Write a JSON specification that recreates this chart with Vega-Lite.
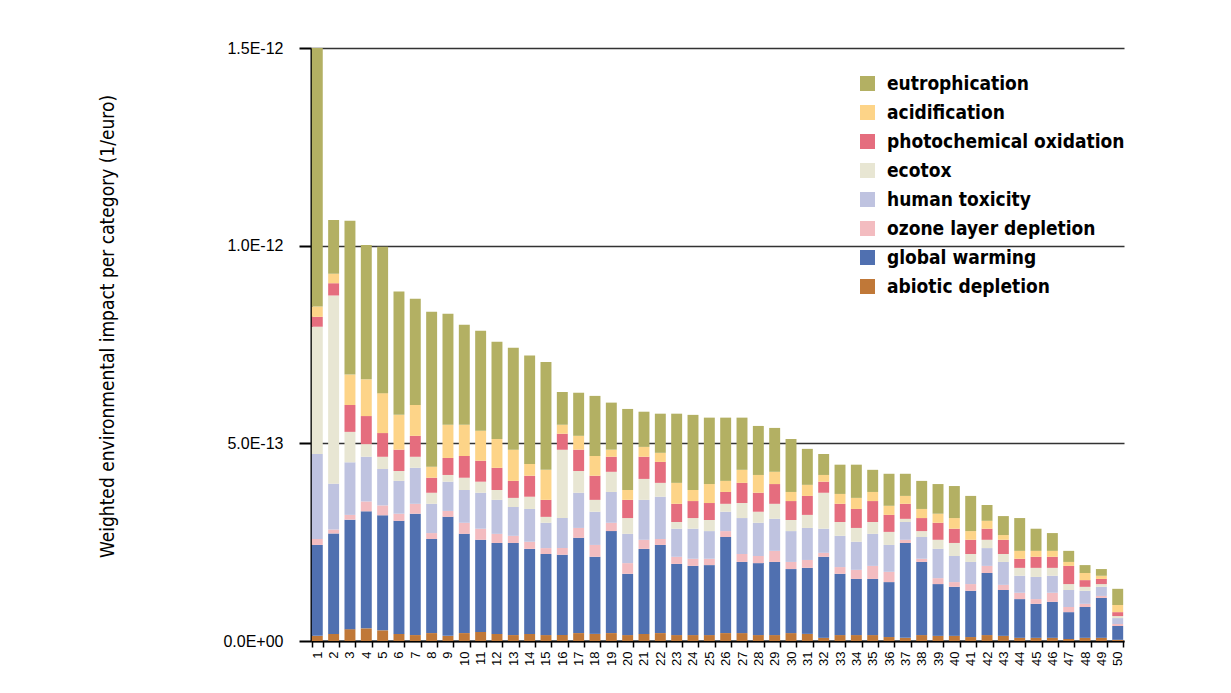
{
  "$schema": "https://vega.github.io/schema/vega-lite/v6.json",
  "width": 813,
  "height": 593,
  "autosize": {"type": "none"},
  "padding": {"left": 311, "top": 48, "right": 107, "bottom": 52},
  "background": "white",
  "config": {"view": {"stroke": null}, "font": "Liberation Sans"},
  "datasets": {
    "categories": [
      {"key": "ab", "category": "abiotic depletion", "level": 1},
      {"key": "gw", "category": "global warming", "level": 2},
      {"key": "oz", "category": "ozone layer depletion", "level": 3},
      {"key": "ht", "category": "human toxicity", "level": 4},
      {"key": "ec", "category": "ecotox", "level": 5},
      {"key": "ph", "category": "photochemical oxidation", "level": 6},
      {"key": "ac", "category": "acidification", "level": 7},
      {"key": "eu", "category": "eutrophication", "level": 8}
    ],
    "impacts": [
      {"product": 1, "ab": 0.13e-13, "gw": 2.30e-13, "oz": 0.15e-13, "ht": 2.15e-13, "ec": 3.22e-13, "ph": 0.25e-13, "ac": 0.26e-13, "eu": 6.54e-13},
      {"product": 2, "ab": 0.18e-13, "gw": 2.54e-13, "oz": 0.10e-13, "ht": 1.16e-13, "ec": 4.76e-13, "ph": 0.31e-13, "ac": 0.24e-13, "eu": 1.36e-13},
      {"product": 3, "ab": 0.30e-13, "gw": 2.77e-13, "oz": 0.12e-13, "ht": 1.33e-13, "ec": 0.77e-13, "ph": 0.68e-13, "ac": 0.77e-13, "eu": 3.89e-13},
      {"product": 4, "ab": 0.32e-13, "gw": 2.96e-13, "oz": 0.25e-13, "ht": 1.13e-13, "ec": 0.32e-13, "ph": 0.71e-13, "ac": 0.93e-13, "eu": 3.40e-13},
      {"product": 5, "ab": 0.27e-13, "gw": 2.91e-13, "oz": 0.25e-13, "ht": 0.92e-13, "ec": 0.31e-13, "ph": 0.60e-13, "ac": 1.01e-13, "eu": 3.70e-13},
      {"product": 6, "ab": 0.18e-13, "gw": 2.86e-13, "oz": 0.18e-13, "ht": 0.83e-13, "ec": 0.25e-13, "ph": 0.54e-13, "ac": 0.88e-13, "eu": 3.12e-13},
      {"product": 7, "ab": 0.15e-13, "gw": 3.07e-13, "oz": 0.25e-13, "ht": 0.91e-13, "ec": 0.28e-13, "ph": 0.53e-13, "ac": 0.78e-13, "eu": 2.69e-13},
      {"product": 8, "ab": 0.20e-13, "gw": 2.38e-13, "oz": 0.15e-13, "ht": 0.74e-13, "ec": 0.28e-13, "ph": 0.38e-13, "ac": 0.28e-13, "eu": 3.92e-13},
      {"product": 9, "ab": 0.13e-13, "gw": 3.01e-13, "oz": 0.15e-13, "ht": 0.74e-13, "ec": 0.17e-13, "ph": 0.43e-13, "ac": 0.84e-13, "eu": 2.81e-13},
      {"product": 10, "ab": 0.20e-13, "gw": 2.51e-13, "oz": 0.28e-13, "ht": 0.83e-13, "ec": 0.31e-13, "ph": 0.55e-13, "ac": 0.79e-13, "eu": 2.53e-13},
      {"product": 11, "ab": 0.23e-13, "gw": 2.33e-13, "oz": 0.28e-13, "ht": 0.91e-13, "ec": 0.28e-13, "ph": 0.53e-13, "ac": 0.76e-13, "eu": 2.53e-13},
      {"product": 12, "ab": 0.18e-13, "gw": 2.30e-13, "oz": 0.23e-13, "ht": 0.86e-13, "ec": 0.25e-13, "ph": 0.56e-13, "ac": 0.73e-13, "eu": 2.46e-13},
      {"product": 13, "ab": 0.15e-13, "gw": 2.33e-13, "oz": 0.18e-13, "ht": 0.73e-13, "ec": 0.23e-13, "ph": 0.43e-13, "ac": 0.79e-13, "eu": 2.58e-13},
      {"product": 14, "ab": 0.18e-13, "gw": 2.15e-13, "oz": 0.18e-13, "ht": 0.83e-13, "ec": 0.31e-13, "ph": 0.53e-13, "ac": 0.30e-13, "eu": 2.74e-13},
      {"product": 15, "ab": 0.15e-13, "gw": 2.05e-13, "oz": 0.15e-13, "ht": 0.64e-13, "ec": 0.15e-13, "ph": 0.43e-13, "ac": 0.76e-13, "eu": 2.73e-13},
      {"product": 16, "ab": 0.15e-13, "gw": 2.03e-13, "oz": 0.17e-13, "ht": 0.76e-13, "ec": 1.73e-13, "ph": 0.40e-13, "ac": 0.23e-13, "eu": 0.83e-13},
      {"product": 17, "ab": 0.20e-13, "gw": 2.41e-13, "oz": 0.25e-13, "ht": 0.89e-13, "ec": 0.55e-13, "ph": 0.54e-13, "ac": 0.35e-13, "eu": 1.09e-13},
      {"product": 18, "ab": 0.18e-13, "gw": 1.95e-13, "oz": 0.30e-13, "ht": 0.84e-13, "ec": 0.30e-13, "ph": 0.61e-13, "ac": 0.50e-13, "eu": 1.52e-13},
      {"product": 19, "ab": 0.20e-13, "gw": 2.58e-13, "oz": 0.21e-13, "ht": 0.78e-13, "ec": 0.51e-13, "ph": 0.38e-13, "ac": 0.18e-13, "eu": 1.19e-13},
      {"product": 20, "ab": 0.15e-13, "gw": 1.55e-13, "oz": 0.27e-13, "ht": 0.74e-13, "ec": 0.40e-13, "ph": 0.46e-13, "ac": 0.25e-13, "eu": 2.05e-13},
      {"product": 21, "ab": 0.18e-13, "gw": 2.15e-13, "oz": 0.23e-13, "ht": 1.01e-13, "ec": 0.53e-13, "ph": 0.56e-13, "ac": 0.25e-13, "eu": 0.89e-13},
      {"product": 22, "ab": 0.20e-13, "gw": 2.23e-13, "oz": 0.15e-13, "ht": 1.07e-13, "ec": 0.35e-13, "ph": 0.53e-13, "ac": 0.23e-13, "eu": 0.99e-13},
      {"product": 23, "ab": 0.15e-13, "gw": 1.80e-13, "oz": 0.18e-13, "ht": 0.71e-13, "ec": 0.17e-13, "ph": 0.46e-13, "ac": 0.53e-13, "eu": 1.75e-13},
      {"product": 24, "ab": 0.15e-13, "gw": 1.75e-13, "oz": 0.18e-13, "ht": 0.76e-13, "ec": 0.27e-13, "ph": 0.43e-13, "ac": 0.28e-13, "eu": 1.90e-13},
      {"product": 25, "ab": 0.15e-13, "gw": 1.77e-13, "oz": 0.16e-13, "ht": 0.70e-13, "ec": 0.28e-13, "ph": 0.43e-13, "ac": 0.48e-13, "eu": 1.68e-13},
      {"product": 26, "ab": 0.20e-13, "gw": 2.43e-13, "oz": 0.15e-13, "ht": 0.49e-13, "ec": 0.20e-13, "ph": 0.30e-13, "ac": 0.28e-13, "eu": 1.60e-13},
      {"product": 27, "ab": 0.20e-13, "gw": 1.80e-13, "oz": 0.20e-13, "ht": 0.91e-13, "ec": 0.38e-13, "ph": 0.51e-13, "ac": 0.33e-13, "eu": 1.32e-13},
      {"product": 28, "ab": 0.15e-13, "gw": 1.82e-13, "oz": 0.18e-13, "ht": 0.84e-13, "ec": 0.28e-13, "ph": 0.48e-13, "ac": 0.45e-13, "eu": 1.24e-13},
      {"product": 29, "ab": 0.15e-13, "gw": 1.85e-13, "oz": 0.28e-13, "ht": 0.81e-13, "ec": 0.38e-13, "ph": 0.50e-13, "ac": 0.31e-13, "eu": 1.11e-13},
      {"product": 30, "ab": 0.20e-13, "gw": 1.62e-13, "oz": 0.18e-13, "ht": 0.78e-13, "ec": 0.28e-13, "ph": 0.48e-13, "ac": 0.23e-13, "eu": 1.34e-13},
      {"product": 31, "ab": 0.18e-13, "gw": 1.67e-13, "oz": 0.20e-13, "ht": 0.81e-13, "ec": 0.33e-13, "ph": 0.48e-13, "ac": 0.28e-13, "eu": 0.91e-13},
      {"product": 32, "ab": 0.08e-13, "gw": 2.05e-13, "oz": 0.10e-13, "ht": 0.61e-13, "ec": 0.91e-13, "ph": 0.28e-13, "ac": 0.17e-13, "eu": 0.53e-13},
      {"product": 33, "ab": 0.15e-13, "gw": 1.55e-13, "oz": 0.17e-13, "ht": 0.79e-13, "ec": 0.35e-13, "ph": 0.46e-13, "ac": 0.25e-13, "eu": 0.74e-13},
      {"product": 34, "ab": 0.15e-13, "gw": 1.42e-13, "oz": 0.23e-13, "ht": 0.71e-13, "ec": 0.35e-13, "ph": 0.48e-13, "ac": 0.28e-13, "eu": 0.84e-13},
      {"product": 35, "ab": 0.15e-13, "gw": 1.42e-13, "oz": 0.33e-13, "ht": 0.81e-13, "ec": 0.30e-13, "ph": 0.53e-13, "ac": 0.23e-13, "eu": 0.56e-13},
      {"product": 36, "ab": 0.10e-13, "gw": 1.39e-13, "oz": 0.26e-13, "ht": 0.68e-13, "ec": 0.33e-13, "ph": 0.43e-13, "ac": 0.23e-13, "eu": 0.81e-13},
      {"product": 37, "ab": 0.08e-13, "gw": 2.40e-13, "oz": 0.08e-13, "ht": 0.45e-13, "ec": 0.08e-13, "ph": 0.38e-13, "ac": 0.20e-13, "eu": 0.56e-13},
      {"product": 38, "ab": 0.15e-13, "gw": 1.85e-13, "oz": 0.08e-13, "ht": 0.55e-13, "ec": 0.15e-13, "ph": 0.33e-13, "ac": 0.23e-13, "eu": 0.71e-13},
      {"product": 39, "ab": 0.13e-13, "gw": 1.31e-13, "oz": 0.15e-13, "ht": 0.74e-13, "ec": 0.23e-13, "ph": 0.43e-13, "ac": 0.23e-13, "eu": 0.75e-13},
      {"product": 40, "ab": 0.13e-13, "gw": 1.24e-13, "oz": 0.12e-13, "ht": 0.66e-13, "ec": 0.33e-13, "ph": 0.36e-13, "ac": 0.27e-13, "eu": 0.81e-13},
      {"product": 41, "ab": 0.10e-13, "gw": 1.17e-13, "oz": 0.17e-13, "ht": 0.56e-13, "ec": 0.20e-13, "ph": 0.36e-13, "ac": 0.22e-13, "eu": 0.89e-13},
      {"product": 42, "ab": 0.15e-13, "gw": 1.57e-13, "oz": 0.18e-13, "ht": 0.45e-13, "ec": 0.21e-13, "ph": 0.28e-13, "ac": 0.20e-13, "eu": 0.40e-13},
      {"product": 43, "ab": 0.13e-13, "gw": 1.16e-13, "oz": 0.13e-13, "ht": 0.58e-13, "ec": 0.20e-13, "ph": 0.36e-13, "ac": 0.12e-13, "eu": 0.48e-13},
      {"product": 44, "ab": 0.08e-13, "gw": 0.98e-13, "oz": 0.16e-13, "ht": 0.43e-13, "ec": 0.20e-13, "ph": 0.23e-13, "ac": 0.20e-13, "eu": 0.83e-13},
      {"product": 45, "ab": 0.08e-13, "gw": 0.86e-13, "oz": 0.12e-13, "ht": 0.56e-13, "ec": 0.23e-13, "ph": 0.28e-13, "ac": 0.15e-13, "eu": 0.56e-13},
      {"product": 46, "ab": 0.08e-13, "gw": 0.91e-13, "oz": 0.23e-13, "ht": 0.43e-13, "ec": 0.20e-13, "ph": 0.28e-13, "ac": 0.15e-13, "eu": 0.45e-13},
      {"product": 47, "ab": 0.05e-13, "gw": 0.68e-13, "oz": 0.13e-13, "ht": 0.43e-13, "ec": 0.15e-13, "ph": 0.46e-13, "ac": 0.10e-13, "eu": 0.28e-13},
      {"product": 48, "ab": 0.08e-13, "gw": 0.78e-13, "oz": 0.08e-13, "ht": 0.33e-13, "ec": 0.10e-13, "ph": 0.17e-13, "ac": 0.18e-13, "eu": 0.20e-13},
      {"product": 49, "ab": 0.08e-13, "gw": 1.01e-13, "oz": 0.05e-13, "ht": 0.23e-13, "ec": 0.07e-13, "ph": 0.13e-13, "ac": 0.08e-13, "eu": 0.17e-13},
      {"product": 50, "ab": 0.03e-13, "gw": 0.35e-13, "oz": 0.05e-13, "ht": 0.15e-13, "ec": 0.05e-13, "ph": 0.10e-13, "ac": 0.18e-13, "eu": 0.41e-13}
    ]
  },
  "data": {"name": "impacts"},
  "transform": [
    {"fold": ["ab", "gw", "oz", "ht", "ec", "ph", "ac", "eu"], "as": ["key", "value"]},
    {"lookup": "key", "from": {"data": {"name": "categories"}, "key": "key", "fields": ["category", "level"]}}
  ],
  "mark": {"type": "bar"},
  "encoding": {
    "x": {
      "field": "product",
      "type": "ordinal",
      "scale": {"paddingInner": 0.33, "paddingOuter": 0.05},
      "axis": {
        "title": null,
        "labelAngle": -90,
        "labelFontSize": 13,
        "labelColor": "#000",
        "labelPadding": 4,
        "tickBand": "extent",
        "tickSize": 6,
        "tickWidth": 1.5,
        "tickColor": "#000",
        "domainColor": "#000",
        "domainWidth": 2,
        "grid": false
      }
    },
    "y": {
      "field": "value",
      "type": "quantitative",
      "stack": "zero",
      "scale": {"domain": [0, 1.5e-12], "nice": false},
      "axis": {
        "values": [0, 5e-13, 1e-12, 1.5e-12],
        "labelExpr": "datum.value == 0 ? '0.0E+00' : replace(format(datum.value, '.1e'), 'e', 'E')",
        "labelFontSize": 16,
        "labelColor": "#000",
        "labelPadding": 16,
        "tickSize": 12,
        "tickWidth": 2,
        "tickColor": "#000",
        "domainColor": "#000",
        "domainWidth": 2,
        "grid": true,
        "gridColor": "#333",
        "gridWidth": 1.5,
        "gridOpacity": 1,
        "title": "Weighted environmental impact per category (1/euro)",
        "titleFont": "DejaVu Sans Condensed, Liberation Sans, sans-serif",
        "titleFontWeight": "normal",
        "titleFontSize": 19,
        "titleColor": "#000",
        "titleX": -194,
        "titleY": 278
      }
    },
    "color": {
      "field": "category",
      "type": "nominal",
      "scale": {
        "domain": ["eutrophication", "acidification", "photochemical oxidation", "ecotox", "human toxicity", "ozone layer depletion", "global warming", "abiotic depletion"],
        "range": ["#b3b063", "#fdd488", "#e56d7e", "#e8e6d3", "#bfc3e0", "#f3bcc0", "#5070b0", "#c07838"]
      },
      "legend": {
        "orient": "none",
        "legendX": 547,
        "legendY": 26,
        "title": null,
        "symbolType": "square",
        "symbolSize": 225,
        "symbolStrokeWidth": 0,
        "symbolOpacity": 1,
        "labelFont": "DejaVu Sans Condensed, Liberation Sans, sans-serif",
        "labelFontWeight": "bold",
        "labelFontSize": 19,
        "labelColor": "#000",
        "labelLimit": 400,
        "rowPadding": 9,
        "labelOffset": 10
      }
    },
    "order": {"field": "level", "type": "quantitative"}
  }
}
